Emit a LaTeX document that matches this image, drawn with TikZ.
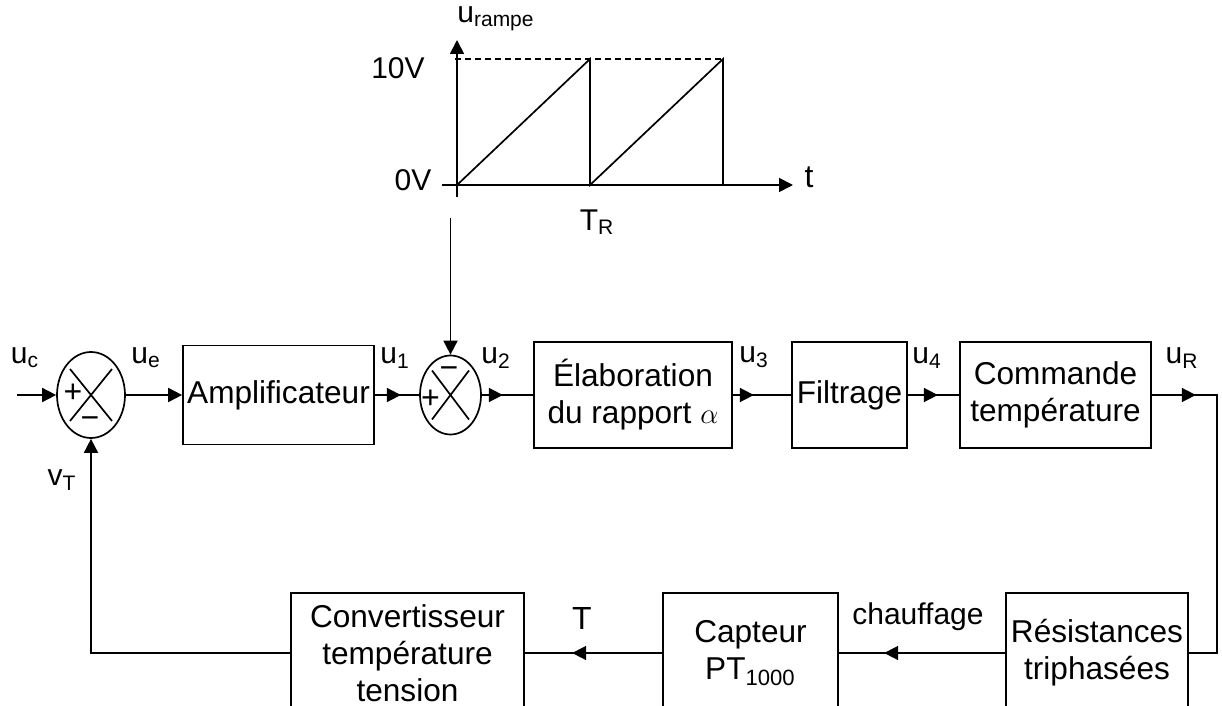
\documentclass[tikz,border=0pt]{standalone}
\usepackage{fontspec}
\setmainfont{Liberation Sans}
\usetikzlibrary{positioning, arrows.meta, calc, shapes.geometric, decorations.markings}

\tikzset{
    block/.style={draw, rectangle, align=center, inner sep=0pt, font=\fontsize{15.8}{18.5}\selectfont},
    sum/.style={draw, ellipse, inner sep=0pt},
    sign/.style={inner sep=0pt, font=\fontsize{16}{16}\selectfont},
    sig/.style={inner sep=0pt, font=\fontsize{15}{15}\selectfont},
    tip/.style={postaction={decorate}, decoration={markings,
        mark=at position #1 with {\arrow{Triangle[length=7pt, width=7pt]}}}},
    ender/.style={-{Triangle[length=7pt, width=7pt]}}
}

\begin{document}
\begin{tikzpicture}
    [
        x=0.5pt, y=-0.5pt,
        on grid,
        line width=0.85pt
    ]
        \useasboundingbox (0,0) rectangle (1222,706);
        \clip (0,0) rectangle (1222,706);
        % =========================================================================
        % RAMP
        % =========================================================================
        \coordinate (O) at (457,185);
        \coordinate (TR) at (590,185);
        \coordinate (T2) at (723,185);
        \draw [ender] (442,185) -- (793,185);
        \draw [ender] (457,197) -- (457,40);
        \draw (O) -- (590,59) -- (TR) -- (723,59) -- (T2);
        \draw [dash pattern=on 3pt off 2pt] (455,59) -- (723,59);
        \node [sig] (urampe) at (496,19) {u\textsubscript{rampe}};
        \node [sig] (dix) at (398,68) {10V};
        \node [sig] (zero) at (413,180) {0V};
        \node [sig, font=\fontsize{16}{16}\selectfont] (tlab) at (809,177) {t};
        \node [sig] (TRlab) at (597,222) {T\textsubscript{R}};

        % =========================================================================
        % NODES
        % =========================================================================
        % --- Row 1 ---
        \node [sum, minimum width=34pt, minimum height=43pt] (sum1) at (91,395) {};
        \node [block, minimum width=95.5pt, minimum height=49.5pt, right=93.75pt of sum1] (ampli) {Amplificateur};
        \node [sum, minimum width=30.5pt, minimum height=39.5pt, right=86pt of ampli] (sum2) {};
        \node [block, minimum width=99pt, minimum height=53pt, right=91.25pt of sum2] (elab) {Élaboration\\du rapport $\alpha$};
        \node [block, minimum width=57.5pt, minimum height=53pt, right=108.25pt of elab] (filtre) {Filtrage};
        \node [block, minimum width=95.5pt, minimum height=53pt, right=103pt of filtre] (cmd) {Commande\\température};
        % --- Row 2 ---
        \node [block, minimum width=116.5pt, minimum height=60pt] (conv) at (407.5,653) {Convertisseur\\température\\tension};
        \node [block, minimum width=87.5pt, minimum height=60pt, right=171.5pt of conv] (capteur) {Capteur\\PT\textsubscript{1000}};
        \node [block, minimum width=91pt, minimum height=60pt, right=173.25pt of capteur] (resist) {Résistances\\triphasées};
        % --- crosses and signs ---
        \foreach \s/\dx/\dy in {sum1/21/26, sum2/18.5/24.5}
            \draw ($(\s)+(-\dx,-\dy)$) -- ($(\s)+(\dx,\dy)$)
                  ($(\s)+(\dx,-\dy)$) -- ($(\s)+(-\dx,\dy)$);
        \node [sign] (p1) at ($(sum1)+(-18,-2)$) {+};
        \node [sign] (m1) at ($(sum1)+(-1,28)$) {−};
        \node [sign] (m2) at ($(sum2)+(-1.5,-22)$) {−};
        \node [sign] (p2) at ($(sum2)+(-20,4)$) {+};
        % --- labels ---
        \node [sig] (uc) at (25,358) {u\textsubscript{c}};
        \node [sig] (ue) at (146,358) {u\textsubscript{e}};
        \node [sig] (u1) at (395,358) {u\textsubscript{1}};
        \node [sig] (u2) at (496,358) {u\textsubscript{2}};
        \node [sig] (u3) at (754,357) {u\textsubscript{3}};
        \node [sig] (u4) at (927,358) {u\textsubscript{4}};
        \node [sig] (uR) at (1182,358) {u\textsubscript{R}};
        \node [sig] (vT) at (62,480) {v\textsubscript{T}};
        \node [sig, font=\fontsize{16}{16}\selectfont] (Tlab) at (582,618) {T};
        \node [sig] (chauf) at (918,617) {chauffage};

        \coordinate (in) at (17,395);
        \coordinate (corner) at (1217,395);
        \coordinate (back) at (sum1 |- conv);
        \path (sum2.north) ++(0,-137) coordinate (rampout);

        % =========================================================================
        % PATHS
        % =========================================================================
        \draw [ender] (in) -- (sum1.west);
        \draw [ender] (sum1.east) -- (ampli.west);
        \draw [tip=13pt] (ampli.east) -- (sum2.west);
        \draw [tip=10.5pt] (sum2.east) -- (elab.west);
        \draw [tip=10.5pt] (elab.east) -- (filtre.west);
        \draw [tip=15pt] (filtre.east) -- (cmd.west);
        \draw [tip=22pt] (cmd.east) -- (corner) |- (resist.east);
        \draw [tip=60.5pt] (resist.west) -- (capteur.east);
        \draw [tip=45pt] (capteur.west) -- (conv.east);
        \draw [ender] (conv.west) -- (back) -- (sum1.south);
        \draw [ender] (rampout) -- (sum2.north);
\end{tikzpicture}
\end{document}
